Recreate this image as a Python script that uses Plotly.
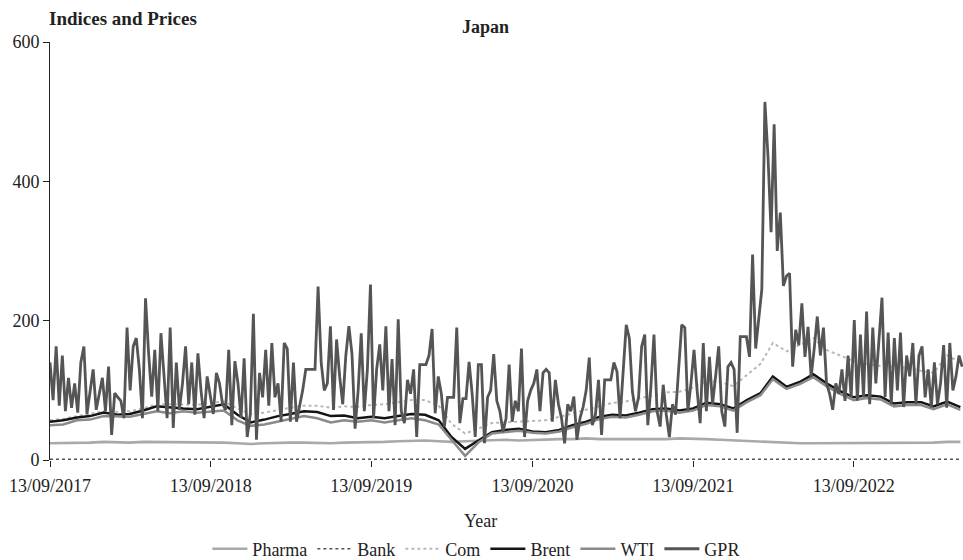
import pandas as pd
import plotly.graph_objects as go

# ---------------- data ----------------
series_names = ["Pharma", "Bank", "Com", "Brent", "WTI", "GPR"]
tick_dates = ["2017-09-13", "2018-09-13", "2019-09-13", "2020-09-13", "2021-09-13", "2022-09-13"]
tick_labels = ["13/09/2017", "13/09/2018", "13/09/2019", "13/09/2020", "13/09/2021", "13/09/2022"]
y_ticks = [0, 200, 400, 600]

# monthly series, Sep 2017 .. May 2023
pharma = [24, 24, 25, 25,
          26, 25, 25, 26, 26, 26, 26, 25, 26, 25, 24, 23,
          24, 25, 25, 25, 24, 24, 25, 25, 26, 26, 27, 28,
          28, 27, 26, 27, 28, 29, 29, 28, 29, 29, 30, 30,
          31, 30, 30, 29, 29, 30, 30, 31, 31, 30, 29, 28,
          27, 26, 26, 25, 24, 24, 24, 25, 25, 25, 24, 24,
          24, 25, 25, 26, 26]
bank = [1.1, 1.0, 1.1, 1.2,
        1.2, 1.1, 1.0, 1.0, 1.1, 1.1, 1.0, 1.0, 1.0, 1.0, 0.9, 0.8,
        0.9, 0.9, 0.9, 0.9, 0.8, 0.8, 0.8, 0.7, 0.8, 0.8, 0.8, 0.9,
        0.9, 0.8, 0.6, 0.6, 0.6, 0.7, 0.7, 0.7, 0.7, 0.7, 0.8, 0.8,
        0.9, 0.9, 1.0, 1.0, 0.9, 0.9, 0.9, 0.9, 1.0, 1.0, 0.9, 0.9,
        1.0, 1.0, 1.0, 1.0, 1.0, 1.0, 1.0, 1.0, 1.0, 1.1, 1.1, 1.1,
        1.2, 1.2, 1.1, 1.1, 1.0]
com = [57, 59, 63, 66,
       70, 69, 70, 74, 80, 80, 79, 79, 82, 84, 74, 66,
       68, 72, 75, 78, 78, 75, 77, 76, 79, 80, 83, 86,
       86, 78, 52, 38, 45, 53, 54, 55, 55, 57, 62, 67,
       72, 78, 82, 84, 88, 93, 97, 98, 104, 113, 112, 106,
       122, 138, 168, 156, 165, 175, 158, 150, 142, 138, 135, 134,
       132, 128, 125, 150, 140]
brent = [55, 57, 61, 63,
         68, 65, 66, 71, 77, 75, 74, 73, 77, 80, 65, 54,
         58, 63, 66, 70, 69, 63, 64, 60, 62, 60, 63, 66,
         65, 57, 33, 16, 28, 40, 43, 45, 41, 40, 43, 50,
         55, 62, 65, 64, 68, 73, 74, 71, 74, 82, 80, 74,
         86, 96, 120, 105, 112, 123, 110, 99, 90, 93, 91, 81,
         83, 83, 77, 84, 76]
wti = [50, 51, 57, 58,
       63, 62, 62, 66, 70, 67, 70, 68, 70, 71, 57, 49,
       51, 55, 58, 63, 60, 54, 57, 55, 57, 54, 57, 60,
       57, 51, 29, 6, 25, 38, 40, 42, 39, 38, 41, 47,
       52, 59, 62, 61, 65, 70, 71, 68, 71, 79, 77, 71,
       83, 93, 116, 102, 109, 119, 106, 95, 86, 89, 87, 77,
       79, 79, 73, 80, 72]

# weekly GPR, from 13/09/2017
gpr = [140, 86, 163, 78, 150, 70, 118, 75, 110, 68,
       140, 163, 66, 100, 130, 72, 95, 118, 70, 134,
       36, 96, 90, 85, 60, 190, 100, 163, 175, 130,
       60, 232, 153, 91, 158, 70, 182, 125, 60, 190,
       46, 140, 72, 110, 163, 80, 140, 65, 153, 100,
       60, 120,
       90, 66, 125, 110, 80, 72, 158, 50, 142, 110,
       60, 146, 33, 66, 210, 29, 125, 90, 158, 78,
       168, 90, 110, 55, 168, 160, 55, 140, 55, 78,
       100, 130, 130, 130, 130, 249, 140, 100, 110, 192,
       72, 173, 120, 80, 150, 192, 152, 45, 100, 182,
       70, 130,
       252, 60, 130, 166, 100, 192, 70, 145, 50, 202,
       70, 53, 115, 95, 130, 33, 137, 137, 137, 150,
       188, 67, 120, 95, 48, 90, 90, 90, 190, 53,
       88, 88, 141, 95, 33, 137, 137, 24, 90, 100,
       152, 85, 70, 40, 60, 137, 55, 85, 70, 160,
       33, 85, 100,
       110, 130, 70, 125, 130, 125, 55, 115, 80, 60, 24, 80,
       70, 91, 29, 60, 76, 100, 147, 50, 65, 115,
       36, 115, 115, 115, 140, 127, 60, 127, 194, 175,
       98, 70, 90, 163, 180, 50, 105, 180, 70, 48,
       108, 65, 33, 80, 65, 130, 194, 190, 70, 110,
       158, 100, 53, 168, 70, 148, 80, 120, 163, 70,
       48, 134, 140, 130, 39, 177, 177, 177, 148, 295,
       160, 200, 245, 514, 436, 327, 482, 300, 355, 250,
       264, 268, 134, 187, 165, 225, 148, 191, 119, 160,
       206, 150, 190, 110, 95, 72, 110, 95, 130, 85,
       150, 90,
       201, 85, 180, 90, 213, 80, 190, 110, 170, 233,
       90, 183, 80, 175, 100, 183, 76, 150, 120, 168,
       80, 150, 163, 90, 130, 75, 140, 80, 110, 165,
       75, 168, 100, 120, 150, 134]

monthly_dates = [pd.Timestamp("2017-09-13") + pd.DateOffset(months=i) for i in range(len(brent))]
weekly_dates = pd.date_range("2017-09-13", periods=len(gpr), freq="7D")

FONT = "Liberation Serif, DejaVu Serif, serif"

styles = {
    "Pharma": dict(color="#a9a9a9", width=2.6, dash="solid"),
    "Bank": dict(color="#555555", width=1.4, dash="dot"),
    "Com": dict(color="#b8b8b8", width=2, dash="dot"),
    "Brent": dict(color="#141414", width=2.5, dash="solid"),
    "WTI": dict(color="#8a8a8a", width=2.5, dash="solid"),
    "GPR": dict(color="#555555", width=2.8, dash="solid"),
}
values = {"Pharma": pharma, "Bank": bank, "Com": com, "Brent": brent, "WTI": wti}

fig = go.Figure()
for name in series_names:
    if name == "GPR":
        x, y = weekly_dates, gpr
    else:
        x, y = monthly_dates, values[name]
    fig.add_trace(go.Scatter(x=x, y=y, mode="lines", name=name, line=styles[name]))

fig.update_layout(
    width=963, height=560,
    margin=dict(l=50, r=0, t=42, b=100, autoexpand=False),
    paper_bgcolor="white", plot_bgcolor="white",
    font=dict(family=FONT, size=17, color="#222222"),
    showlegend=True,
    legend=dict(orientation="h", x=0.467, xanchor="center", y=-0.213, yanchor="middle",
                font=dict(family=FONT, size=18, color="#222222"), itemwidth=35,
                traceorder="normal"),
    xaxis=dict(
        type="date", range=["2017-09-13", "2023-05-19"], automargin=False,
        tickvals=tick_dates, ticktext=tick_labels,
        showgrid=False, zeroline=False, showline=False,
        ticks="outside", ticklen=6, tickcolor="#222222", tickwidth=1,
        ticklabelstandoff=3,
        tickfont=dict(family=FONT, size=18, color="#222222"),
    ),
    yaxis=dict(
        range=[0, 600], tickvals=y_ticks, automargin=False,
        showgrid=False, zeroline=False, showline=True, linecolor="#222222", linewidth=1,
        ticks="outside", ticklen=6, tickcolor="#222222",
        tickfont=dict(family=FONT, size=18, color="#222222"),
    ),
    annotations=[
        dict(text="<b>Indices and Prices</b>", xref="paper", yref="paper", x=-0.003, y=1.057,
             xanchor="left", yanchor="middle", showarrow=False,
             font=dict(family=FONT, size=19, color="#222222")),
        dict(text="<b>Japan</b>", xref="paper", yref="paper", x=0.4775, y=1.036,
             xanchor="center", yanchor="middle", showarrow=False,
             font=dict(family=FONT, size=18, color="#222222")),
        dict(text="Year", xref="paper", yref="paper", x=0.471, y=-0.146,
             xanchor="center", yanchor="middle", showarrow=False,
             font=dict(family=FONT, size=18, color="#222222")),
    ],
)

fig.write_html("out.html", config={"displayModeBar": False},
               post_script="document.body.style.margin='0px';")
